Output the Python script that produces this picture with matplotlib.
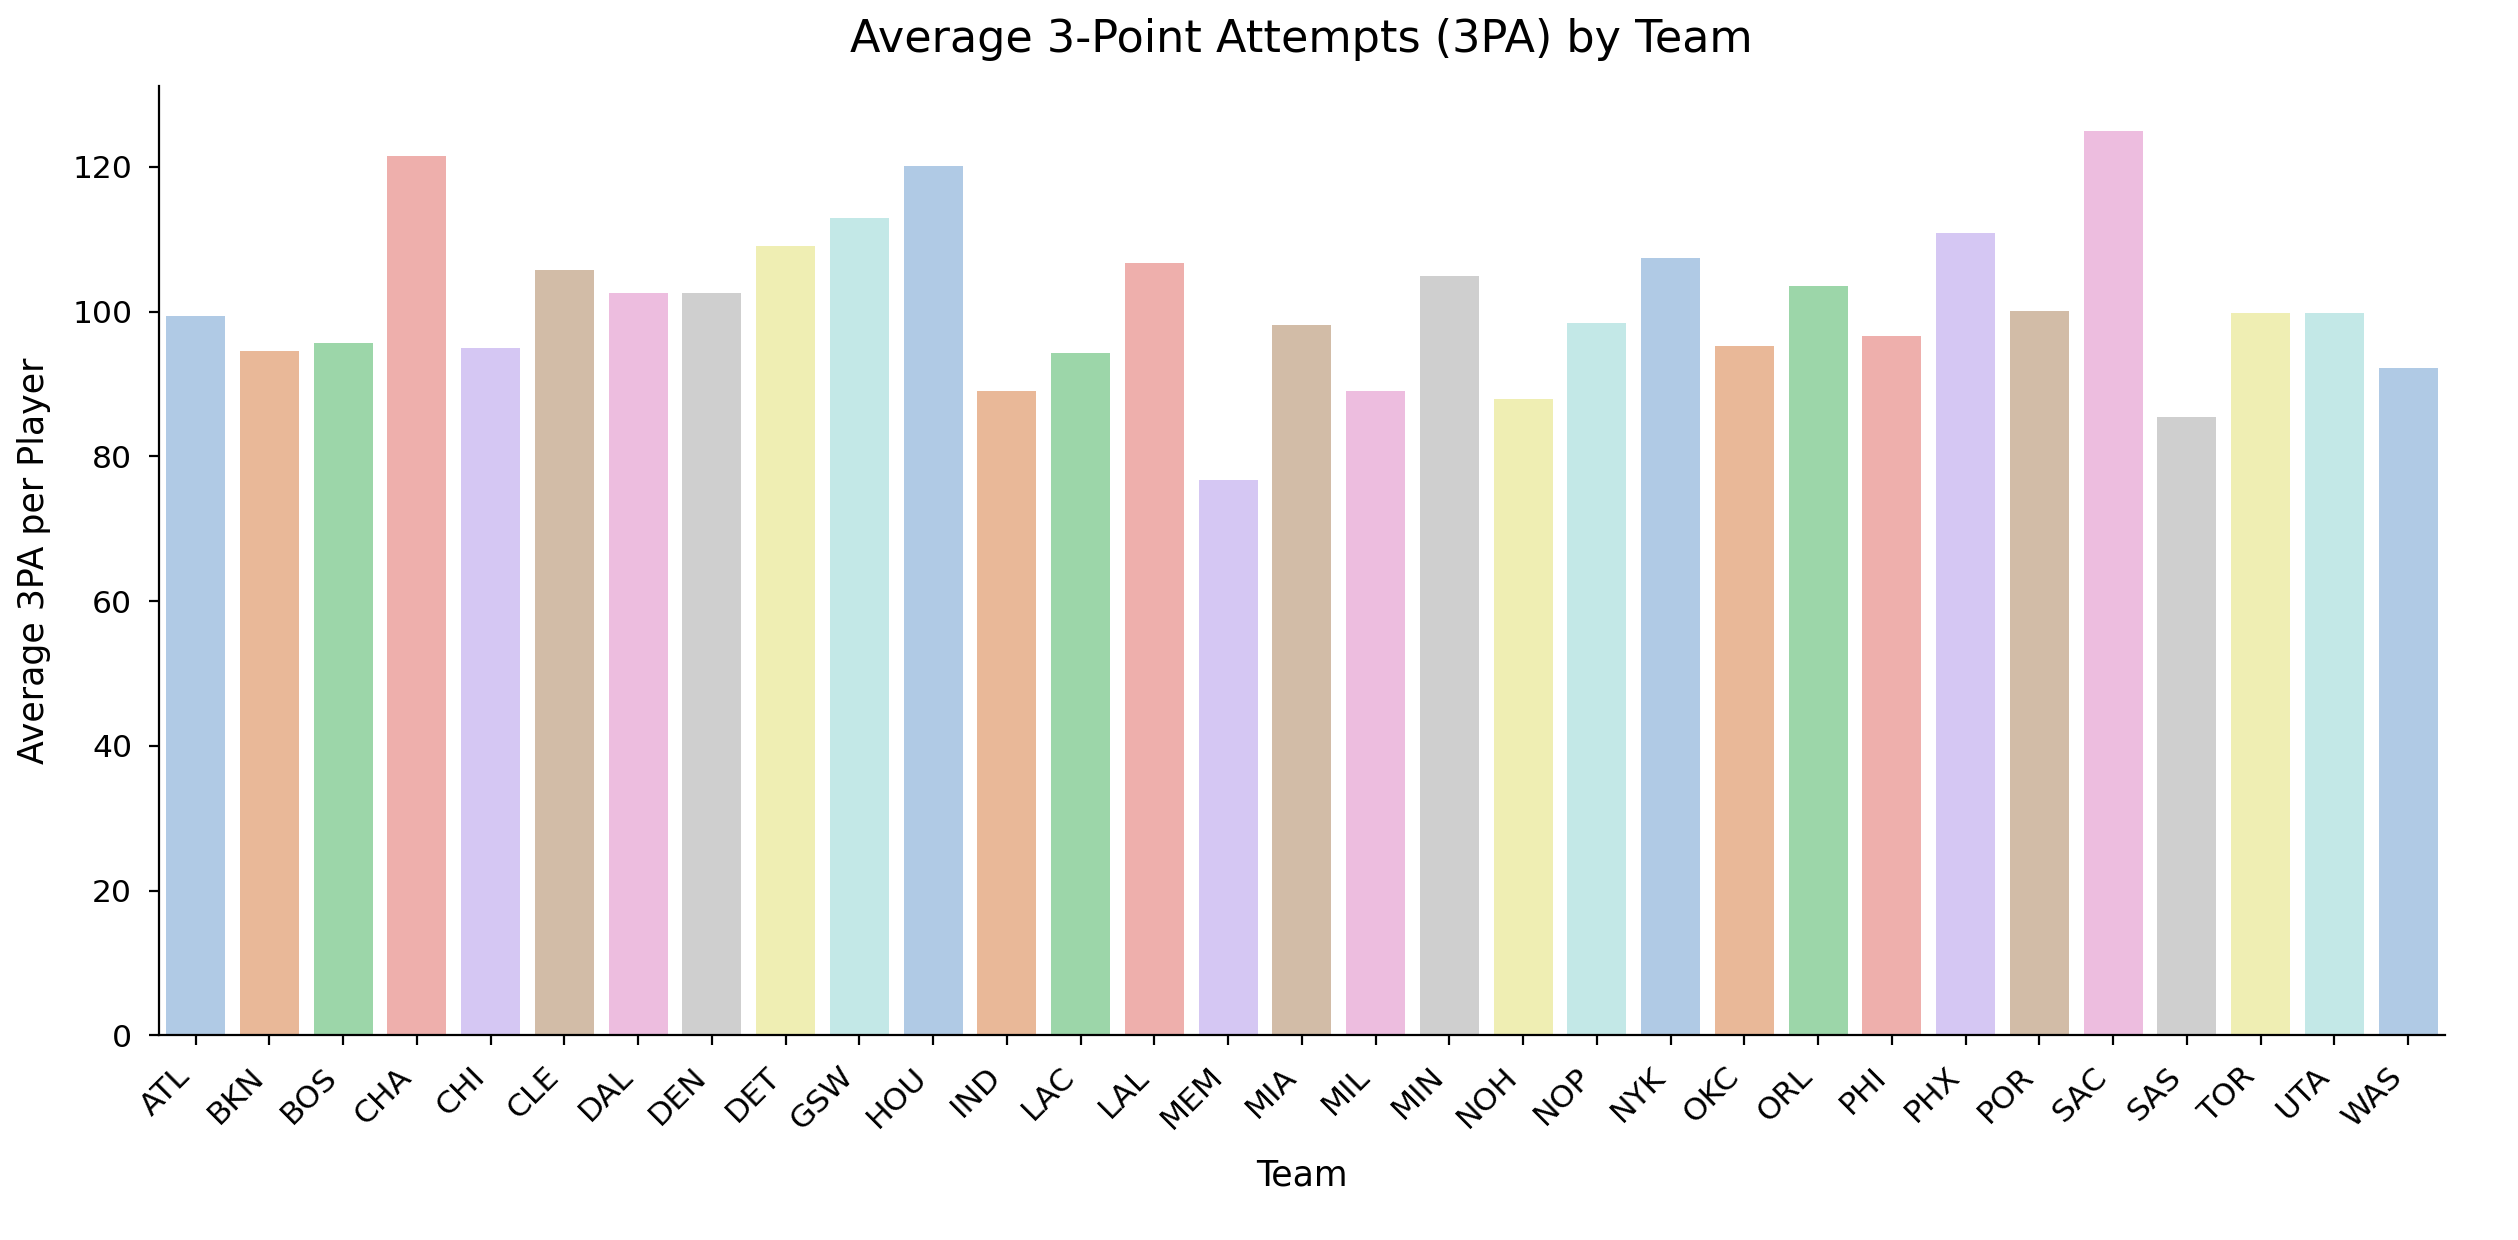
import matplotlib
matplotlib.use("Agg")
import matplotlib.pyplot as plt
import seaborn as sns

teams = ["ATL", "BKN", "BOS", "CHA", "CHI", "CLE", "DAL", "DEN", "DET", "GSW",
         "HOU", "IND", "LAC", "LAL", "MEM", "MIA", "MIL", "MIN", "NOH", "NOP",
         "NYK", "OKC", "ORL", "PHI", "PHX", "POR", "SAC", "SAS", "TOR", "UTA", "WAS"]
avg_3pa = [99.4, 94.6, 95.7, 121.5, 95.0, 105.7, 102.6, 102.6, 109.1, 112.9,
           120.1, 89.1, 94.3, 106.7, 76.7, 98.1, 89.1, 105.0, 88.0, 98.4,
           107.4, 95.3, 103.6, 96.7, 110.9, 100.1, 125.0, 85.4, 99.8, 99.8, 92.2]

fig = plt.figure(figsize=(12.59, 6.2), dpi=200)
ax = fig.add_axes([0.063, 0.165, 0.908, 0.766])
sns.barplot(x=teams, y=avg_3pa, hue=teams, palette="pastel", legend=False,
            saturation=0.65, ax=ax)
ax.set_title("Average 3-Point Attempts (3PA) by Team", fontsize=16, pad=12)
ax.set_xlabel("Team", fontsize=12.5, labelpad=8.3)
ax.set_ylabel("Average 3PA per Player", fontsize=12.5, labelpad=7.5)
ax.tick_params(axis="both", labelsize=11.3, pad=6)
plt.setp(ax.get_xticklabels(), rotation=45, ha="right")
sns.despine(ax=ax)
fig.savefig("out.png", dpi=200)
